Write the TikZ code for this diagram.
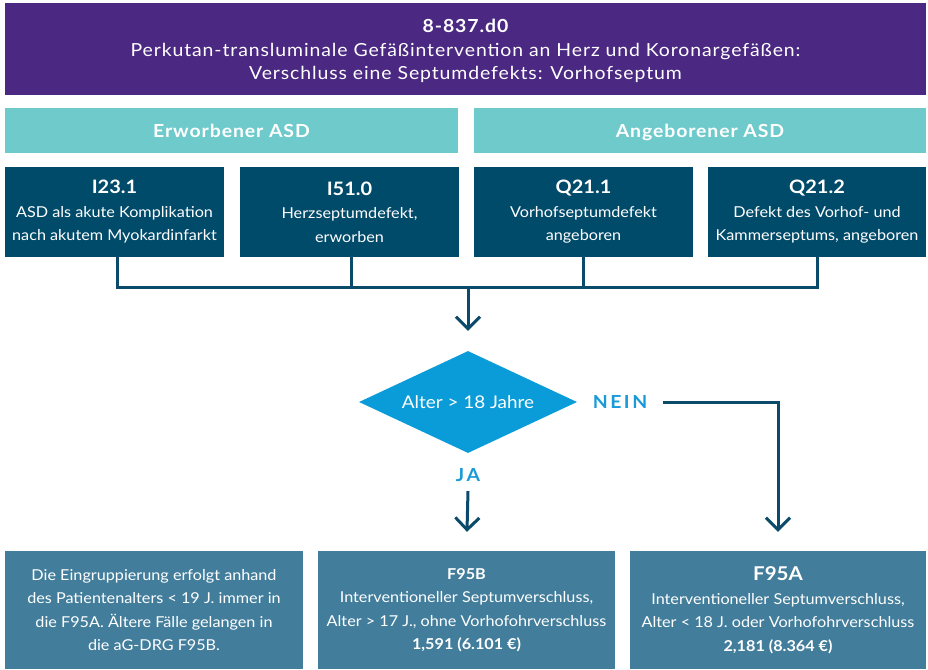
\documentclass[tikz,border=0pt]{standalone}
\usepackage{fontspec}
\setmainfont{Lato}[FakeStretch=1.08]
\newfontfamily\hdfont{Lato}[FakeStretch=1.08,LetterSpace=5]
\newfontfamily\spfont{Lato}[FakeStretch=1.08,LetterSpace=14]
\usetikzlibrary{arrows.meta,shapes.geometric}
\definecolor{hdr}{HTML}{4B2882}
\definecolor{teal}{HTML}{6FCACB}
\definecolor{dark}{HTML}{004A6A}
\definecolor{steel}{HTML}{427E9C}
\definecolor{dia}{HTML}{0A9CD8}
\definecolor{lbl}{HTML}{1A9AD6}
\definecolor{conn}{HTML}{0B4A6A}
\tikzset{
  box/.style={rectangle, inner sep=0pt, align=center, text=white, font=\fontsize{15}{23.5}\selectfont},
  tealbox/.style={box, fill=teal, minimum height=45pt, text height=13pt, text depth=0pt, font=\hdfont\bfseries\fontsize{18}{20}\selectfont},
  conn/.style={draw=conn, line width=3pt, line join=miter},
  arr/.style={conn, -{Straight Barb[length=12pt,width=24pt]}},
  lab/.style={text=lbl, font=\spfont\bfseries\fontsize{18}{20}\selectfont}
}
\begin{document}
\begin{tikzpicture}[x=1pt,y=-1pt]
\useasboundingbox (0,0) rectangle (928,669);
% header
\node[box, fill=hdr, minimum width=921pt, minimum height=92pt] (hdr) at (465.5,49) {};
\node[box, font=\hdfont\fontsize{18}{23.5}\selectfont] (hdrtxt) at (465.5,51)
  {{\bfseries 8-837.d0}\\Perkutan-transluminale Gefäßintervention an Herz und Koronargefäßen:\\Verschluss eine Septumdefekts: Vorhofseptum};
% teal
\node[tealbox, minimum width=453pt] (erw) at (231.5,130.5) {Erworbener ASD};
\node[tealbox, minimum width=452pt] (ang) at (700,130.5) {Angeborener ASD};
% dark boxes
\node[box, fill=dark, minimum width=219pt, minimum height=90pt] (b1) at (114.5,212)
  {{\bfseries\fontsize{18.5}{25}\selectfont I23.1}\\ASD als akute Komplikation\\nach akutem Myokardinfarkt};
\node[box, fill=dark, minimum width=219pt, minimum height=90pt] (b2) at (349.5,212)
  {{\bfseries\fontsize{18.5}{25}\selectfont I51.0}\\Herzseptumdefekt,\\erworben};
\node[box, fill=dark, minimum width=219pt, minimum height=90pt] (b3) at (583.5,212)
  {{\bfseries\fontsize{18.5}{25}\selectfont Q21.1}\\Vorhofseptumdefekt\\angeboren};
\node[box, fill=dark, minimum width=218pt, minimum height=90pt] (b4) at (817,212)
  {{\bfseries\fontsize{18.5}{25}\selectfont Q21.2}\\Defekt des Vorhof- und\\Kammerseptums, angeboren};
% diamond
\node[diamond, aspect=2.14, fill=dia, minimum width=218pt, minimum height=102pt, inner sep=0pt, text=white, font=\fontsize{17.5}{20}\selectfont] (dia) at (468,402) {Alter > 18 Jahre};
\node[lab] (nein) at (620,402) {NEIN};
\node[lab] (ja) at (468,475) {JA};
% bottom boxes
\node[box, fill=steel, minimum width=298pt, minimum height=118pt] (info) at (154,610)
  {Die Eingruppierung erfolgt anhand\\des Patientenalters < 19 J. immer in\\die F95A. Ältere Fälle gelangen in\\die aG-DRG F95B.};
\node[box, fill=steel, minimum width=297pt, minimum height=118pt] (f95b) at (466.5,610)
  {{\bfseries F95B}\\Interventioneller Septumverschluss,\\Alter > 17 J., ohne Vorhofohrverschluss\\{\bfseries 1,591 (6.101 €)}};
\node[box, fill=steel, minimum width=296pt, minimum height=118pt] (f95a) at (778,610)
  {{\bfseries\fontsize{19}{24}\selectfont F95A}\\Interventioneller Septumverschluss,\\Alter < 18 J. oder Vorhofohrverschluss\\{\bfseries 2,181 (8.364 €)}};
% connectors
\coordinate (bus) at (468,287);
\coordinate (jastart) at (468,491);
\coordinate (neinstart) at (663,402);
\draw[conn] ([xshift=3pt]b1.south) -- ([xshift=3pt]b1.south |- bus) -- (b4.south |- bus) -- (b4.south);
\draw[conn] ([xshift=2pt]b2.south) -- ([xshift=2pt]b2.south |- bus);
\draw[conn] (b3.south) -- (b3.south |- bus);
\draw[arr, shorten >=20pt] (bus) -- (dia.north);
\draw[arr, shorten >=19pt] (neinstart) -| (f95a.north);
\draw[arr, shorten >=19pt] (jastart) -- (f95b.north);
\end{tikzpicture}
\end{document}
